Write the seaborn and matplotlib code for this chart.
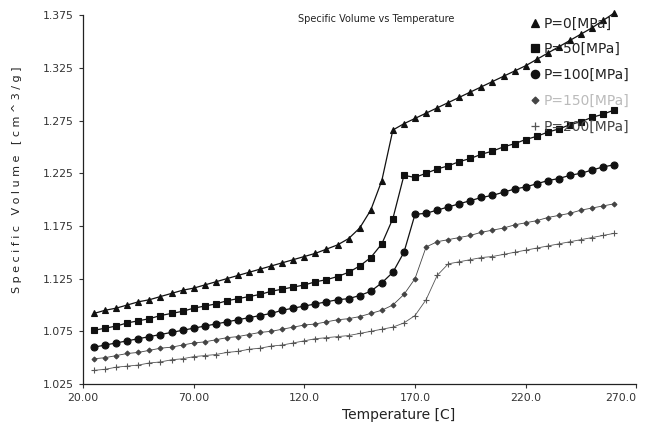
import pandas as pd
import seaborn as sns
import matplotlib.pyplot as plt
from matplotlib.lines import Line2D
from matplotlib.ticker import FormatStrFormatter, FuncFormatter

# temperatures [C], every 5 degrees
temp = [25, 30, 35, 40, 45, 50, 55, 60, 65, 70, 75, 80, 85, 90, 95, 100,
        105, 110, 115, 120, 125, 130, 135, 140, 145, 150, 155, 160, 165, 170,
        175, 180, 185, 190, 195, 200, 205, 210, 215, 220, 225, 230, 235, 240,
        245, 250, 255, 260]

p0 = [1.092, 1.095, 1.097, 1.100, 1.103, 1.105, 1.108, 1.111, 1.114, 1.116,
      1.119, 1.122, 1.125, 1.128, 1.131, 1.134, 1.137, 1.140, 1.143, 1.146,
      1.149, 1.153, 1.157, 1.163, 1.173, 1.190, 1.218, 1.266, 1.272, 1.277,
      1.282, 1.287, 1.292, 1.297, 1.302, 1.307, 1.312, 1.317, 1.322, 1.327,
      1.333, 1.339, 1.345, 1.351, 1.357, 1.363, 1.370, 1.377]
p50 = [1.076, 1.078, 1.080, 1.083, 1.085, 1.087, 1.090, 1.092, 1.094, 1.097,
       1.099, 1.101, 1.104, 1.106, 1.108, 1.110, 1.113, 1.115, 1.117, 1.119,
       1.122, 1.124, 1.127, 1.131, 1.137, 1.145, 1.158, 1.182, 1.223, 1.221,
       1.225, 1.229, 1.232, 1.236, 1.239, 1.243, 1.246, 1.250, 1.253, 1.257,
       1.260, 1.264, 1.267, 1.271, 1.274, 1.278, 1.281, 1.285]
p100 = [1.060, 1.062, 1.064, 1.066, 1.068, 1.070, 1.072, 1.074, 1.076, 1.078,
        1.080, 1.082, 1.084, 1.086, 1.088, 1.090, 1.092, 1.095, 1.097, 1.099,
        1.101, 1.103, 1.105, 1.106, 1.109, 1.113, 1.121, 1.131, 1.150, 1.186,
        1.187, 1.190, 1.193, 1.196, 1.199, 1.202, 1.204, 1.207, 1.210, 1.212,
        1.215, 1.218, 1.220, 1.223, 1.225, 1.228, 1.231, 1.233]
p150 = [1.049, 1.050, 1.052, 1.054, 1.055, 1.057, 1.059, 1.060, 1.062, 1.064,
        1.065, 1.067, 1.069, 1.070, 1.072, 1.074, 1.075, 1.077, 1.079, 1.081,
        1.082, 1.084, 1.086, 1.087, 1.089, 1.092, 1.095, 1.100, 1.110, 1.125,
        1.155, 1.160, 1.162, 1.164, 1.166, 1.169, 1.171, 1.173, 1.176, 1.178,
        1.180, 1.183, 1.185, 1.187, 1.190, 1.192, 1.194, 1.196]
p200 = [1.038, 1.039, 1.041, 1.042, 1.043, 1.045, 1.046, 1.048, 1.049, 1.051,
        1.052, 1.053, 1.055, 1.056, 1.058, 1.059, 1.061, 1.062, 1.064, 1.066,
        1.068, 1.069, 1.070, 1.071, 1.073, 1.075, 1.077, 1.079, 1.083, 1.090,
        1.105, 1.128, 1.139, 1.141, 1.143, 1.145, 1.146, 1.148, 1.150, 1.152,
        1.154, 1.156, 1.158, 1.160, 1.162, 1.164, 1.166, 1.168]

labels = ["P=0[MPa]", "P=50[MPa]", "P=100[MPa]", "P=150[MPa]", "P=200[MPa]"]
series = [p0, p50, p100, p150, p200]
markers = ["^", "s", "o", "D", "+"]
msizes = [4.5, 5, 5, 2.5, 5]
colors = ["#111111", "#111111", "#111111", "#444444", "#555555"]
lws = [0.9, 0.9, 0.9, 0.6, 0.6]

sns.set_style("ticks")
plt.rcParams['font.family'] = ['DejaVu Sans']

fig = plt.figure(figsize=(6.51, 4.32), dpi=100)
ax = fig.add_axes([0.1275, 0.111, 0.85, 0.854])

for vals, lab, mk, ms, c, lw in zip(series, labels, markers, msizes, colors, lws):
    df = pd.DataFrame({"T": temp, "V": vals})
    sns.lineplot(data=df, x="T", y="V", ax=ax, color=c, lw=lw, marker=mk,
                 markersize=ms, markeredgecolor=c, markeredgewidth=0.8,
                 legend=False, clip_on=False)

ax.set_xlim(20, 270)
ax.set_ylim(1.025, 1.375)
ax.set_xticks([20, 70, 120, 170, 220, 270])
ax.set_yticks([1.025, 1.075, 1.125, 1.175, 1.225, 1.275, 1.325, 1.375])
ax.xaxis.set_major_formatter(FuncFormatter(lambda v, p: "%.2f" % v if v < 100 else "%.1f" % v))
ax.yaxis.set_major_formatter(FormatStrFormatter("%.3f"))
ax.tick_params(labelsize=7.8, length=3, width=0.8, colors="#333333")
sns.despine(ax=ax)
for s in ["left", "bottom"]:
    ax.spines[s].set_linewidth(0.9)
    ax.spines[s].set_color("#222222")
# keep the last x tick label inside the figure
ax.get_xticklabels()[-1].set_horizontalalignment("right")
ax.get_xticklabels()[-1].set_x(270)

ax.set_xlabel("Temperature [C]", fontsize=10, color="#222222")
ax.xaxis.set_label_coords(0.57, -0.065)
ax.set_ylabel("S p e c i f i c   V o l u m e   [ c m ^ 3 / g ]", fontsize=8, color="#222222")
ax.yaxis.set_label_coords(-0.11, 0.553)
ax.set_title("Specific Volume vs Temperature", fontsize=7, x=0.53, y=0.96, color="#222222")

handles = [Line2D([], [], linestyle="none", marker=mk, markersize=ms + 1, color=c,
                  markeredgewidth=0.9)
           for mk, ms, c in zip(markers, msizes, colors)]
leg = ax.legend(handles, labels, loc="upper right", bbox_to_anchor=(1.01, 1.03),
                frameon=False, fontsize=10, labelspacing=0.85, handlelength=0.6,
                handletextpad=0.3)
for t, c in zip(leg.get_texts(), ["#222222", "#222222", "#222222", "#bbbbbb", "#444444"]):
    t.set_color(c)

plt.savefig("out.png", dpi=100)
